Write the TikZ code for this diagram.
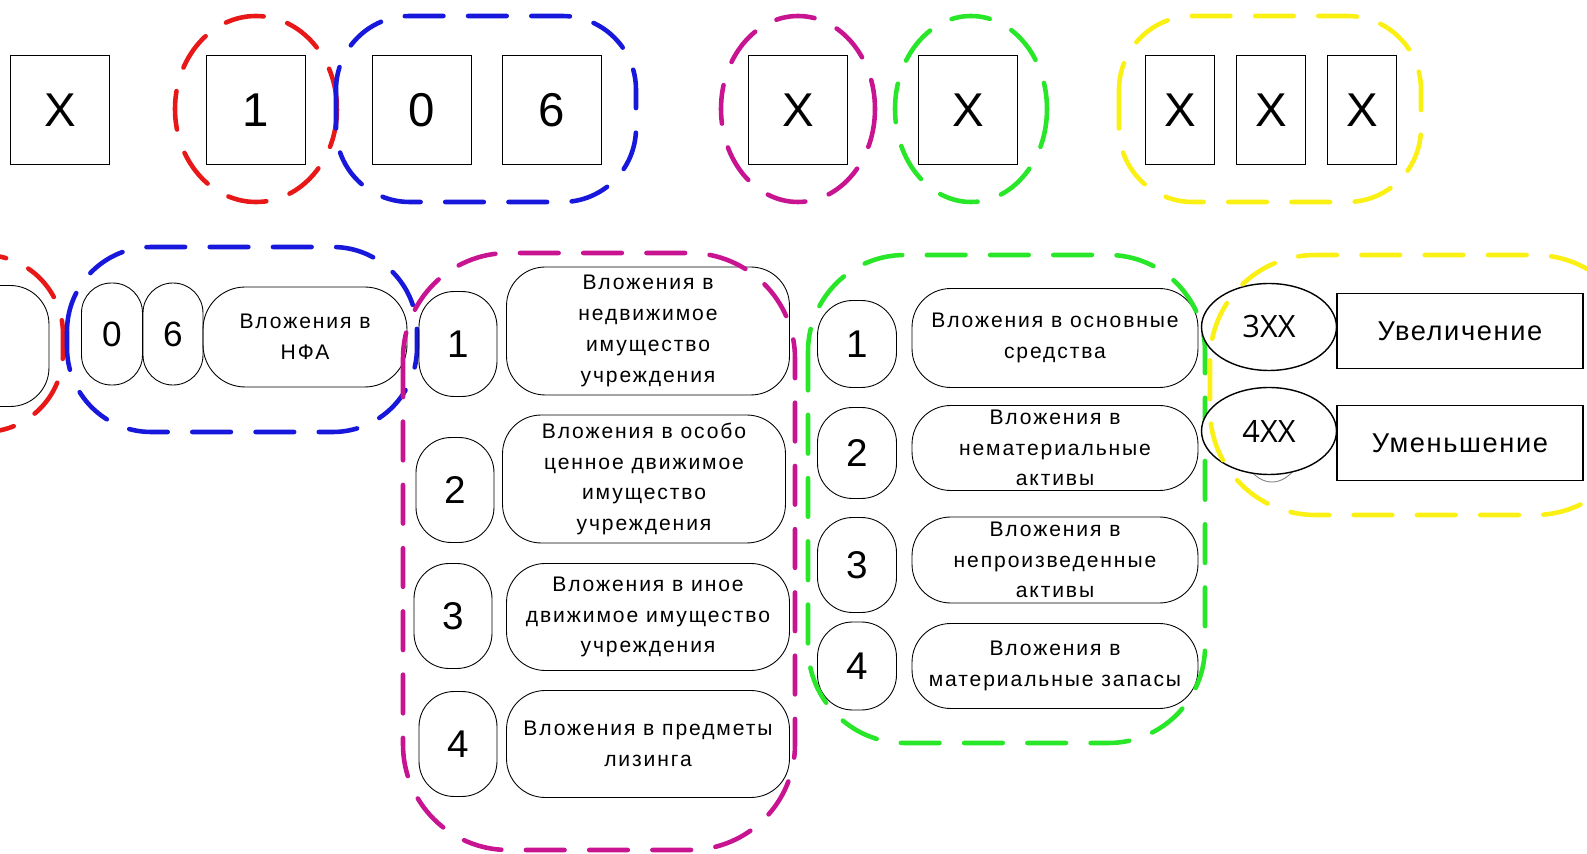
\documentclass[tikz,border=0pt]{standalone}
\usepackage{fontspec}
\setmainfont{Liberation Sans}
\newfontfamily\spacedfont[LetterSpace=9]{Liberation Sans}
\newfontfamily\signfont[LetterSpace=6]{Liberation Sans}
\newfontfamily\codefont{Open Sans}
\usetikzlibrary{shapes.geometric}

\definecolor{grpred}{RGB}{232,24,24}
\definecolor{grpblue}{RGB}{24,24,220}
\definecolor{grpmagenta}{RGB}{200,20,145}
\definecolor{grpgreen}{RGB}{40,230,40}
\definecolor{grpyellow}{RGB}{250,240,20}

\tikzset{
  grp/.style={line width=2.6pt, dash pattern=on 22pt off 14pt, line cap=round},
  digitbox/.style={draw, line width=0.6pt, minimum width=1.98cm, minimum height=2.18cm, font=\fontsize{27}{30}\selectfont},
  slimbox/.style={digitbox, minimum width=1.38cm},
  numoval/.style={draw, line width=0.5pt, rounded corners=20pt, minimum width=1.56cm, minimum height=2.1cm, font=\fontsize{22}{24}\selectfont},
  textoval/.style={draw, line width=0.5pt, rounded corners=22pt, minimum width=5.66cm, align=center, inner sep=1pt, font=\spacedfont\fontsize{12}{17.5}\selectfont},
  codeoval/.style={ellipse, draw, line width=0.8pt, fill=white, minimum width=2.7cm, minimum height=1.74cm, font=\codefont\fontsize{17.5}{19}\selectfont},
  signbox/.style={draw, line width=0.8pt, minimum width=4.92cm, minimum height=1.5cm, font=\signfont\fontsize{15.5}{18}\selectfont}
}

\begin{document}
\begin{tikzpicture}[x=0.02cm, y=-0.02cm]
\useasboundingbox (0,0) rectangle (1587,854);
\clip (0,0) rectangle (1587,854);

%top row: account number digits
\node[digitbox] (topx) at (60,110) {X};
\node[digitbox] (top1) at (256,110) {1};
\node[digitbox] (top0) at (422,110) {0};
\node[digitbox] (top6) at (552,110) {6};
\node[digitbox] (topm) at (798,110) {X};
\node[digitbox] (topg) at (968,110) {X};
\node[slimbox] (topy1) at (1180,110) {X};
\node[slimbox] (topy2) at (1271,110) {X};
\node[slimbox] (topy3) at (1362,110) {X};

%top row: dashed groups
\draw[grp, grpred] (256,109) ellipse [x radius=81, y radius=93];
\draw[grp, grpblue, rounded corners=42pt] (336,16) rectangle (636,202);
\draw[grp, grpmagenta] (798,109) ellipse [x radius=77, y radius=93];
\draw[grp, grpgreen] (971,109) ellipse [x radius=76, y radius=93];
\draw[grp, grpyellow, rounded corners=42pt] (1119,16) rectangle (1421,202);

%second row: red part (cut at the left edge)
\node[draw, line width=0.5pt, rounded corners=22pt, minimum width=3.96cm, minimum height=2.42cm] (redbox) at (-50,346) {};
\draw[grp, grpred, rounded corners=45pt] (-150,255) rectangle (63,432);

%blue part
\node[numoval, minimum width=1.22cm, minimum height=2.04cm, rounded corners=17pt, font=\fontsize{20}{22}\selectfont] (nfa0) at (112,334) {0};
\node[numoval, minimum width=1.2cm, minimum height=2.04cm, rounded corners=17pt, font=\fontsize{20}{22}\selectfont] (nfa6) at (173,334) {6};
\node[textoval, minimum width=4.08cm, minimum height=2cm, rounded corners=24pt] (nfa) at (305,337) {Вложения в\\НФА};
\draw[grp, grpblue, rounded corners=48pt] (67,247) rectangle (417,432);

%magenta part
\node[numoval] (m1) at (458,344) {1};
\node[numoval] (m2) at (455,490) {2};
\node[numoval] (m3) at (453,616) {3};
\node[numoval] (m4) at (458,744) {4};
\node[textoval, minimum height=2.56cm] (mb1) at (648,331) {Вложения в\\недвижимое\\имущество\\учреждения};
\node[textoval, minimum height=2.56cm] (mb2) at (644,479) {Вложения в особо\\ценное движимое\\имущество\\учреждения};
\node[textoval, minimum height=2.14cm] (mb3) at (648,617) {Вложения в иное\\движимое имущество\\учреждения};
\node[textoval, minimum height=2.14cm] (mb4) at (648,744) {Вложения в предметы\\лизинга};
\draw[grp, grpmagenta, rounded corners=60pt] (403,253) rectangle (795,850);

%green part
\node[numoval, minimum width=1.58cm, minimum height=1.74cm] (g1) at (857,344) {1};
\node[numoval, minimum width=1.58cm, minimum height=1.82cm] (g2) at (857,453) {2};
\node[numoval, minimum width=1.58cm, minimum height=1.9cm] (g3) at (857,565) {3};
\node[numoval, minimum width=1.58cm, minimum height=1.76cm] (g4) at (857,666) {4};
\node[textoval, minimum width=5.72cm, minimum height=1.98cm] (gb1) at (1055,338) {Вложения в основные\\средства};
\node[textoval, minimum width=5.72cm, minimum height=1.7cm] (gb2) at (1055,448) {Вложения в\\нематериальные\\активы};
\node[textoval, minimum width=5.72cm, minimum height=1.72cm] (gb3) at (1055,560) {Вложения в\\непроизведенные\\активы};
\node[textoval, minimum width=5.72cm, minimum height=1.7cm] (gb4) at (1055,666) {Вложения в\\материальные запасы};
\draw[grp, grpgreen, rounded corners=55pt] (808,255) rectangle (1205,743);

%yellow part
\draw[line width=0.5pt, gray] (1272,440) ellipse [x radius=31, y radius=42];
\node[codeoval] (inc) at (1269,327) {3XX};
\node[codeoval] (dec) at (1269,431) {4XX};
\node[signbox] (incbox) at (1460,331) {Увеличение};
\node[signbox] (decbox) at (1460,443) {Уменьшение};
\draw[grp, grpyellow, rounded corners=60pt] (1210,255) rectangle (1640,515);

\end{tikzpicture}
\end{document}
